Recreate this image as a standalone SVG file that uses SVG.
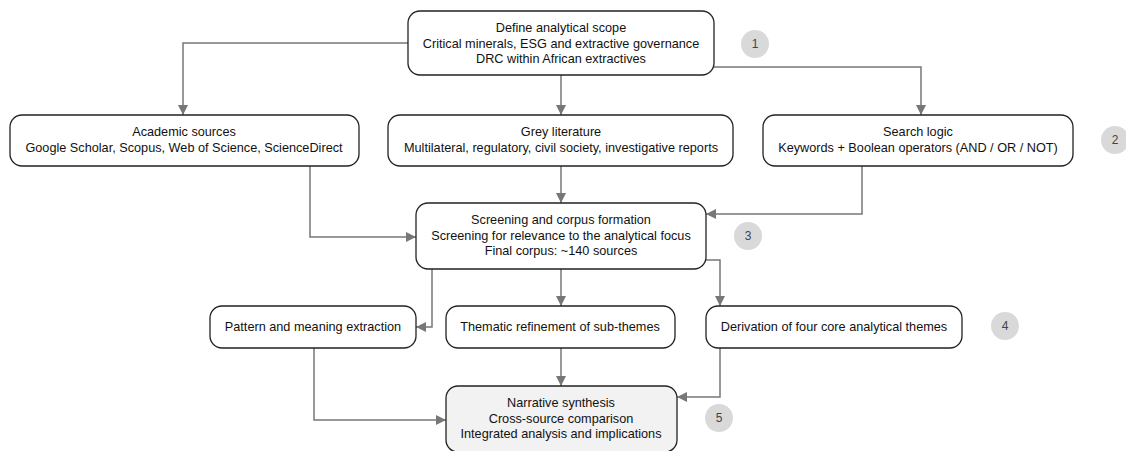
<svg xmlns="http://www.w3.org/2000/svg" width="1126" height="451" viewBox="0 0 1126 451">
<style>
.box{fill:#fff;stroke:#222;stroke-width:1.3}
.box2{fill:#f2f2f2;stroke:#222;stroke-width:1.3}
.t{font-family:"Liberation Sans",Arial,sans-serif;font-size:12.7px;fill:#111;text-anchor:middle}
.badge{fill:#d9d9d9}
.bt{font-family:"Liberation Sans",Arial,sans-serif;font-size:12px;fill:#444;text-anchor:middle}
.c{fill:none;stroke:#777;stroke-width:1.5}
</style>
<defs>
<marker id="ah" viewBox="0 0 10 10" refX="10" refY="5" markerWidth="10" markerHeight="10" markerUnits="userSpaceOnUse" orient="auto">
<path d="M0,0 L10,5 L0,10 z" fill="#777"/>
</marker>
</defs>
<rect width="1126" height="451" fill="#fff"/>
<g id="connectors">
<path class="c" marker-end="url(#ah)" d="M408,43 H183 V115"/>
<path class="c" marker-end="url(#ah)" d="M561,75 V115"/>
<path class="c" marker-end="url(#ah)" d="M714,67 H921 V115"/>
<path class="c" marker-end="url(#ah)" d="M310,166 V237 H416"/>
<path class="c" marker-end="url(#ah)" d="M561,166 V203"/>
<path class="c" marker-end="url(#ah)" d="M862,166 V214 H706"/>
<path class="c" marker-end="url(#ah)" d="M432,269 V327 H416"/>
<path class="c" marker-end="url(#ah)" d="M561,269 V306"/>
<path class="c" marker-end="url(#ah)" d="M706,260 H720 V306"/>
<path class="c" marker-end="url(#ah)" d="M314,348 V420 H446"/>
<path class="c" marker-end="url(#ah)" d="M561,348 V386"/>
<path class="c" marker-end="url(#ah)" d="M720,348 V397 H677"/>
</g>
<g id="n1">
<rect class="box" x="408" y="11" width="306" height="64" rx="12"/>
<text class="t" x="561" y="32">Define analytical scope</text>
<text class="t" x="561" y="48">Critical minerals, ESG and extractive governance</text>
<text class="t" x="561" y="63">DRC within African extractives</text>
</g>
<g id="n2">
<rect class="box" x="10" y="115" width="349" height="51" rx="12"/>
<text class="t" x="184" y="136">Academic sources</text>
<text class="t" x="184" y="152">Google Scholar, Scopus, Web of Science, ScienceDirect</text>
</g>
<g id="n3">
<rect class="box" x="388" y="115" width="345" height="51" rx="12"/>
<text class="t" x="561" y="136">Grey literature</text>
<text class="t" x="561" y="152">Multilateral, regulatory, civil society, investigative reports</text>
</g>
<g id="n4">
<rect class="box" x="763" y="115" width="310" height="51" rx="12"/>
<text class="t" x="918" y="136">Search logic</text>
<text class="t" x="918" y="152">Keywords + Boolean operators (AND / OR / NOT)</text>
</g>
<g id="n5">
<rect class="box" x="416" y="203" width="290" height="66" rx="12"/>
<text class="t" x="561" y="224">Screening and corpus formation</text>
<text class="t" x="561" y="240">Screening for relevance to the analytical focus</text>
<text class="t" x="561" y="255">Final corpus: ~140 sources</text>
</g>
<g id="n6">
<rect class="box" x="210" y="306" width="206" height="42" rx="12"/>
<text class="t" x="313" y="331">Pattern and meaning extraction</text>
</g>
<g id="n7">
<rect class="box" x="446" y="306" width="229" height="42" rx="12"/>
<text class="t" x="560" y="331">Thematic refinement of sub-themes</text>
</g>
<g id="n8">
<rect class="box" x="706" y="306" width="256" height="42" rx="12"/>
<text class="t" x="834" y="331">Derivation of four core analytical themes</text>
</g>
<g id="n9">
<rect class="box2" x="446" y="386" width="231" height="66" rx="12"/>
<text class="t" x="561" y="407">Narrative synthesis</text>
<text class="t" x="561" y="423">Cross-source comparison</text>
<text class="t" x="561" y="438">Integrated analysis and implications</text>
</g>
<g id="badges">
<circle class="badge" cx="755" cy="44" r="14"/><text class="bt" x="755" y="48">1</text>
<circle class="badge" cx="1115" cy="140" r="14"/><text class="bt" x="1115" y="144">2</text>
<circle class="badge" cx="748" cy="236" r="14"/><text class="bt" x="748" y="240">3</text>
<circle class="badge" cx="1005" cy="326" r="14"/><text class="bt" x="1005" y="330">4</text>
<circle class="badge" cx="719" cy="418" r="14"/><text class="bt" x="719" y="422">5</text>
</g>
</svg>
